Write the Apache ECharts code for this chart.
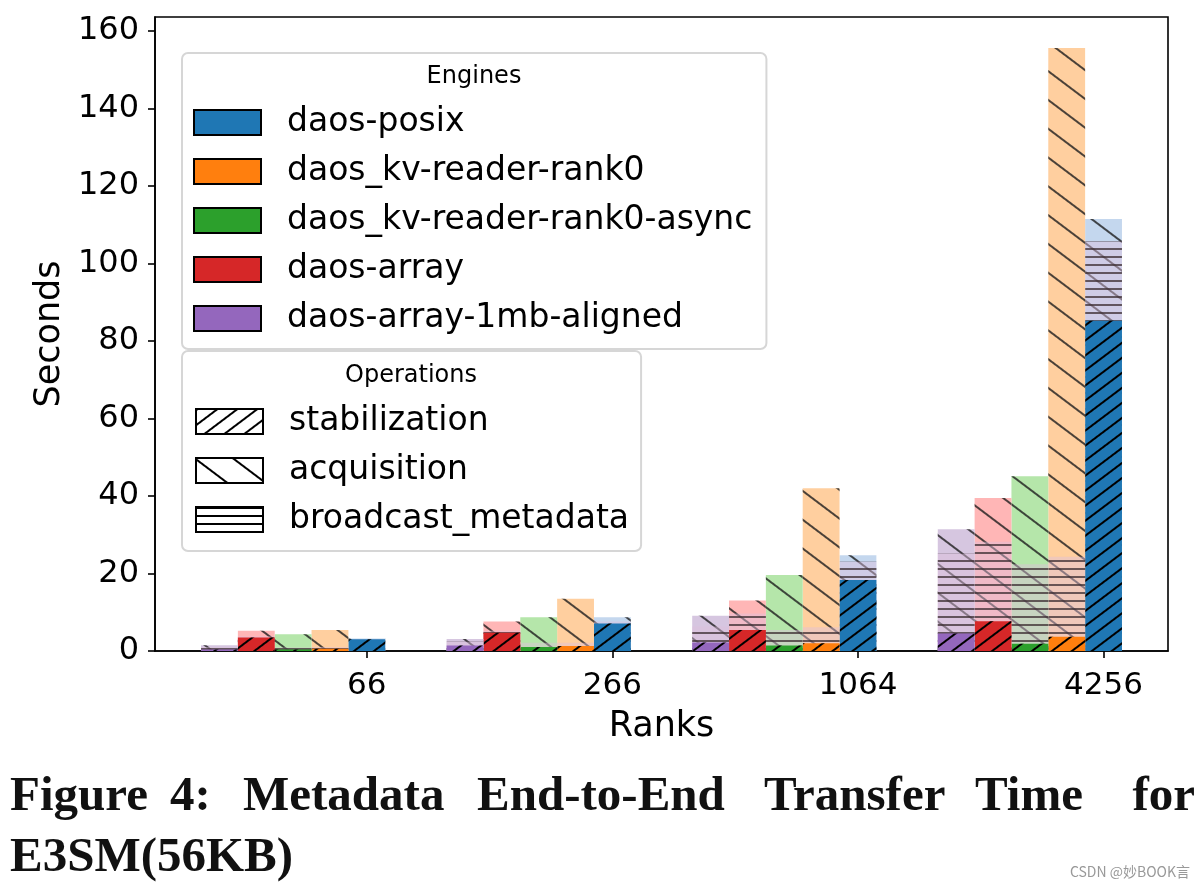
<!DOCTYPE html>
<html><head><meta charset="utf-8">
<script src="https://cdn.jsdelivr.net/npm/echarts@6/dist/echarts.min.js"></script>
<style>html,body{margin:0;padding:0;background:#fff}#c{width:1204px;height:889px}</style>
</head><body><div id="c"></div>
<script>
// ---- data (seconds) ----
const ranks = ['66', '266', '1064', '4256'];
const engines = ['daos-posix', 'daos_kv-reader-rank0', 'daos_kv-reader-rank0-async', 'daos-array', 'daos-array-1mb-aligned'];
const operations = ['stabilization', 'acquisition', 'broadcast_metadata'];

const posixStab = [3.0, 7.1, 18.3, 85.2];
const posixAcq = [0.2, 1.6, 6.4, 26.3];
const posixBcast = [0.1, 0.5, 4.7, 20.5];

const kvStab = [0.6, 1.3, 2.0, 3.7];
const kvAcq = [4.8, 12.2, 40.0, 151.9];
const kvBcast = [0.4, 0.8, 4.1, 20.6];

const asyncStab = [0.4, 1.0, 1.4, 1.9];
const asyncAcq = [3.9, 7.7, 18.2, 43.2];
const asyncBcast = [0.5, 1.1, 4.0, 20.5];

const arrayStab = [3.5, 4.7, 5.4, 7.7];
const arrayAcq = [1.7, 2.9, 7.6, 31.8];
const arrayBcast = [0.3, 0.5, 4.3, 20.5];

const alignedStab = [0.4, 1.4, 2.2, 4.5];
const alignedAcq = [1.1, 1.7, 6.9, 26.9];
const alignedBcast = [0.6, 1.0, 4.1, 20.6];

const yTicks = [0, 20, 40, 60, 80, 100, 120, 140, 160];

// ---- styles ----
const fullColors = ['#1f77b4', '#ff7f0e', '#2ca02c', '#d62728', '#9467bd'];
const lightColors = ['#c4d7ee', '#ffcf9f', '#b5e6aa', '#ffb6b6', '#d6c6e0'];
const bcastOverlay = 'rgba(222,190,220,0.45)';
const ANG = 37 * Math.PI / 180;
const stabDecal = { symbol: 'rect', symbolSize: 1, color: '#000', dashArrayX: [1, 0], dashArrayY: [2, 10], rotation: -ANG };
const acqDecal = { symbol: 'rect', symbolSize: 1, color: 'rgba(30,30,30,0.8)', dashArrayX: [1, 0], dashArrayY: [2, 21], rotation: ANG };
const bcastDecal = { symbol: 'rect', symbolSize: 1, color: 'rgba(60,45,50,0.75)', dashArrayX: [1, 0], dashArrayY: [2, 5.5] };

const engineData = [
  [posixStab, posixAcq, posixBcast],
  [kvStab, kvAcq, kvBcast],
  [asyncStab, asyncAcq, asyncBcast],
  [arrayStab, arrayAcq, arrayBcast],
  [alignedStab, alignedAcq, alignedBcast]
];
// left-to-right slot within each group: aligned(0), array(1), async(2), kv(3), posix(4)
const slotOf = [4, 3, 2, 1, 0];
const W = 0.15;

const series = [];
const common = { type: 'bar', barWidth: '100%', barGap: '-100%', animation: false, silent: true };
engines.forEach((name, e) => {
  const [st, ac, bc] = engineData[e];
  const xs = ranks.map((r, i) => i - (4 - slotOf[e]) * W);
  series.push(Object.assign({}, common, {
    name: name + ' acquisition',
    data: xs.map((x, i) => [x, st[i] + ac[i]]),
    itemStyle: { color: lightColors[e], decal: acqDecal }
  }));
  series.push(Object.assign({}, common, {
    name: name + ' broadcast_metadata',
    data: xs.map((x, i) => [x, st[i] + bc[i]]),
    itemStyle: { color: bcastOverlay, decal: bcastDecal }
  }));
  series.push(Object.assign({}, common, {
    name: name + ' stabilization',
    data: xs.map((x, i) => [x, st[i]]),
    itemStyle: { color: fullColors[e], decal: stabDecal }
  }));
});
// legend-only series
engines.forEach((name, e) => {
  series.push(Object.assign({}, common, { name: name, data: [], itemStyle: { color: fullColors[e], borderColor: '#000', borderWidth: 2 } }));
});
const opDecals = [stabDecal, Object.assign({}, acqDecal, { color: '#000' }), Object.assign({}, bcastDecal, { color: '#000', dashArrayY: [1.5, 6] })];
operations.forEach((name, o) => {
  series.push(Object.assign({}, common, { name: name, data: [], itemStyle: { color: '#fff', borderColor: '#000', borderWidth: 2, decal: opDecals[o] } }));
});

const FONT = 'DejaVu Sans';
const legendBase = {
  orient: 'vertical', icon: 'rect', itemWidth: 67, itemHeight: 25, itemGap: 16,
  backgroundColor: '#fff', borderColor: '#d6d6d6', borderWidth: 2, borderRadius: 6,
  textStyle: { fontFamily: FONT, fontSize: 33, color: '#000', lineHeight: 33, padding: [0, 0, 0, 21] },
  selectedMode: false
};
const capStyle = { fontFamily: 'Liberation Serif', fontWeight: 'bold', fontSize: 49, fill: '#111', verticalAlign: 'middle' };
function cap(x, y, text, align) {
  return { type: 'text', z: 100, style: Object.assign({ x: x, y: y, text: text, align: align || 'left' }, capStyle) };
}

const chart = echarts.init(document.getElementById('c'), null, { renderer: 'canvas' });
chart.setOption({
  backgroundColor: '#fff',
  animation: false,
  grid: { left: 155, right: 36, top: 17, bottom: 238, show: true, borderColor: '#000', borderWidth: 1.6, backgroundColor: 'transparent' },
  xAxis: {
    type: 'value', min: -0.8625, max: 3.2625,
    name: 'Ranks', nameLocation: 'middle', nameGap: 58,
    nameTextStyle: { fontFamily: FONT, fontSize: 35, color: '#000' },
    axisLine: { show: true, onZero: false, lineStyle: { color: '#000', width: 1.6 } },
    axisTick: { show: true, length: 7, lineStyle: { color: '#000', width: 1.6 }, customValues: [0, 1, 2, 3] },
    axisLabel: { fontFamily: FONT, fontSize: 31, color: '#000', margin: 19, customValues: [0, 1, 2, 3], formatter: v => ranks[Math.round(v)] },
    splitLine: { show: false }
  },
  yAxis: {
    type: 'value', min: 0, max: 163.6,
    name: 'Seconds', nameLocation: 'middle', nameGap: 88,
    nameTextStyle: { fontFamily: FONT, fontSize: 35, color: '#000' },
    axisLine: { show: true, onZero: false, lineStyle: { color: '#000', width: 1.6 } },
    axisTick: { show: true, length: 7, lineStyle: { color: '#000', width: 1.6 }, customValues: yTicks },
    axisLabel: { fontFamily: FONT, fontSize: 32, color: '#000', margin: 16, customValues: yTicks },
    splitLine: { show: false }
  },
  legend: [
    Object.assign({}, legendBase, {
      left: 182, top: 53, padding: [53, 14, 14, 11],
      data: engines.map(n => ({ name: n }))
    }),
    Object.assign({}, legendBase, {
      left: 182, top: 351, padding: [54, 12, 15, 13],
      data: operations.map(n => ({ name: n }))
    })
  ],
  graphic: [
    { type: 'text', z: 100, style: { x: 474, y: 77, text: 'Engines', fontFamily: FONT, fontSize: 24, fill: '#000', align: 'center', verticalAlign: 'middle' } },
    { type: 'text', z: 100, style: { x: 411, y: 376, text: 'Operations', fontFamily: FONT, fontSize: 24, fill: '#000', align: 'center', verticalAlign: 'middle' } },
    cap(10, 797, 'Figure'), cap(170, 797, '4:'), cap(243, 797, 'Metadata'), cap(477, 797, 'End-to-End'),
    cap(764, 797, 'Transfer'), cap(975, 797, 'Time'), cap(1195, 797, 'for', 'right'),
    cap(10, 858, 'E3SM(56KB)'),
    { type: 'text', z: 100, style: { x: 1190, y: 872, text: 'CSDN @妙BOOK言', fontFamily: 'Noto Sans CJK SC', fontSize: 14, fill: '#999', verticalAlign: 'middle', align: 'right' } }
  ],
  series: series
});
</script>
</body></html>
